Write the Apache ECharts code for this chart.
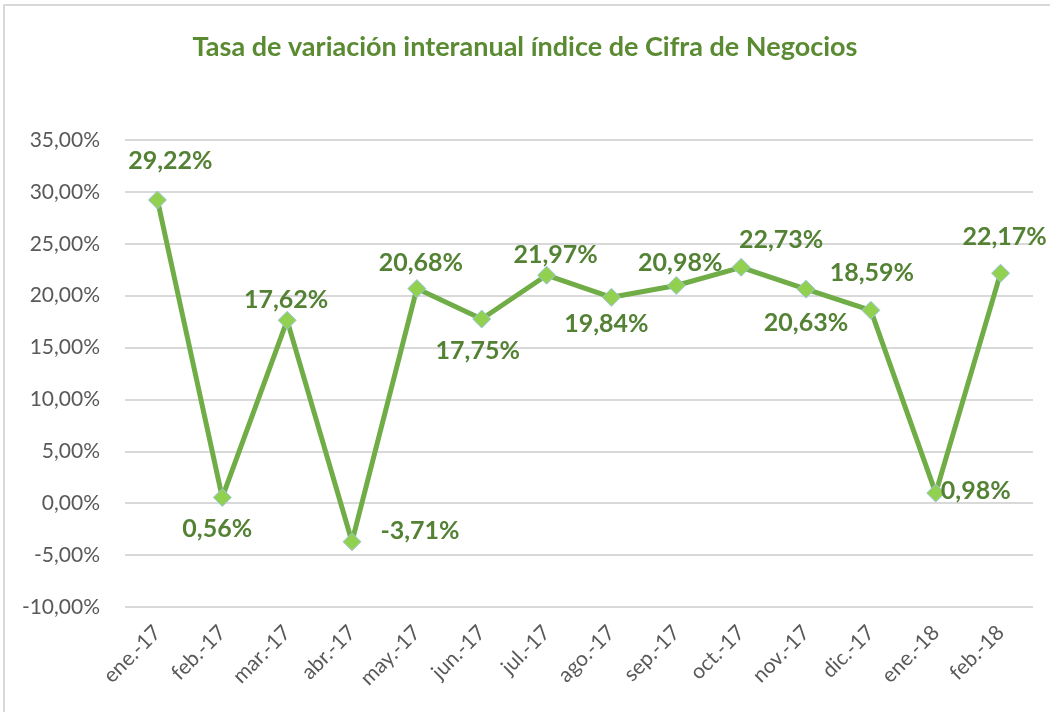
<!DOCTYPE html>
<html>
<head>
<meta charset="utf-8">
<script src="https://cdn.jsdelivr.net/npm/echarts@6/dist/echarts.min.js"></script>
<style>
  html, body { margin: 0; padding: 0; background: #fff; }
  #frame { position: absolute; left: 3px; top: 4px; width: 1060px; height: 720px; border: 2px solid #d9d9d9; box-sizing: border-box; }
  #chart { position: absolute; left: 0; top: 0; width: 1050px; height: 712px; }
</style>
</head>
<body>
<div id="frame"></div>
<div id="chart"></div>
<script>
  // datos
  const categories = ['ene.-17', 'feb.-17', 'mar.-17', 'abr.-17', 'may.-17', 'jun.-17', 'jul.-17',
    'ago.-17', 'sep.-17', 'oct.-17', 'nov.-17', 'dic.-17', 'ene.-18', 'feb.-18'];
  const tasa = [29.22, 0.56, 17.62, -3.71, 20.68, 17.75, 21.97, 19.84, 20.98, 22.73, 20.63, 18.59, 0.98, 22.17];
  const yMin = -10;
  const yMax = 35;
  const yStep = 5;

  const fmt = v => v.toFixed(2).replace('.', ',') + '%';

  // posicion de cada etiqueta (como en el grafico de Excel)
  const labelOffset = [
    [13, -39], [-5, 32], [-1, -20], [68, -11], [4, -26], [-4, 32], [9, -20],
    [-5, 27], [4, -23], [40, -27], [0, 34], [1, -37], [40, -2], [4, -36]
  ];

  const myChart = echarts.init(document.getElementById('chart'));

  const option = {
    animation: false,
    title: {
      text: 'Tasa de variación interanual índice de Cifra de Negocios',
      left: 'center',
      top: 29,
      textStyle: { color: '#5a8a32', fontSize: 27, fontWeight: 'bold', fontFamily: 'Lato' }
    },
    grid: { left: 125, right: 17, top: 140, bottom: 105 },
    xAxis: {
      type: 'category',
      data: categories,
      boundaryGap: true,
      axisLine: { show: false },
      axisTick: { show: false },
      axisLabel: { rotate: 45, margin: 22, color: '#595959', fontSize: 21, fontFamily: 'Lato', interval: 0 }
    },
    yAxis: {
      type: 'value',
      min: yMin,
      max: yMax,
      interval: yStep,
      axisLine: { show: false },
      axisTick: { show: false },
      axisLabel: { formatter: v => fmt(v), color: '#595959', fontSize: 21, fontFamily: 'Lato', margin: 25 },
      splitLine: { lineStyle: { color: '#d9d9d9', width: 2 } }
    },
    series: [{
      type: 'line',
      data: tasa.map((v, i) => ({
        value: v,
        label: { offset: labelOffset[i] }
      })),
      lineStyle: { color: '#70ad47', width: 5 },
      symbol: 'diamond',
      symbolSize: 18,
      itemStyle: { color: '#92d050', borderColor: '#9dc3e6', borderWidth: 1 },
      z: 3,
      label: {
        show: true,
        position: 'inside',
        formatter: p => fmt(p.value),
        color: '#548235',
        fontSize: 25,
        fontWeight: 'bold',
        fontFamily: 'Lato'
      }
    }]
  };

  myChart.setOption(option);
</script>
</body>
</html>
